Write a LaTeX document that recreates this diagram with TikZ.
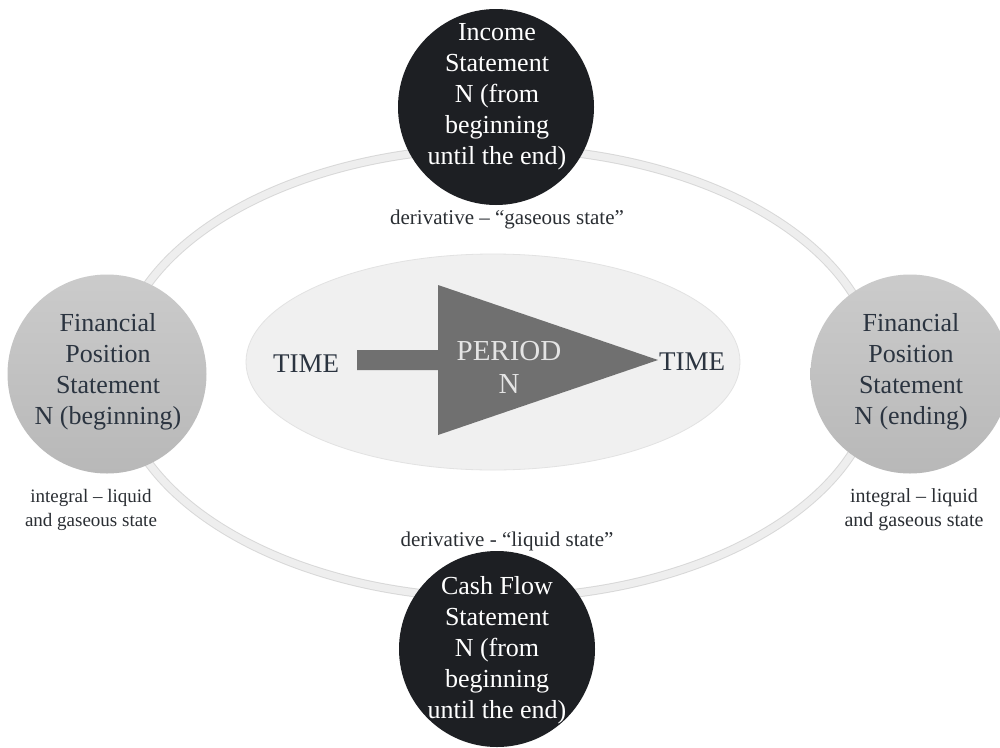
\documentclass[tikz,border=0pt]{standalone}
\usepackage{fontspec}
\setmainfont{Liberation Serif}
\definecolor{darkc}{HTML}{1D1F23}
\definecolor{ringc}{HTML}{EEEEEE}
\definecolor{ringe}{HTML}{D8D8D8}
\definecolor{innerc}{HTML}{F0F0F0}
\definecolor{innere}{HTML}{E2E2E2}
\definecolor{graytop}{HTML}{CBCBCB}
\definecolor{graybot}{HTML}{B8B8B8}
\definecolor{slate}{HTML}{2B3440}
\definecolor{arrowc}{HTML}{707070}
\definecolor{periodc}{HTML}{E4E4E4}
\definecolor{labelc}{HTML}{2A2E33}
\begin{document}
\begin{tikzpicture}[x=1pt,y=-1pt,
  darkcircle/.style={circle,fill=darkc,minimum size=196pt,inner sep=0pt},
  graycircle/.style={circle,top color=graytop,bottom color=graybot,minimum size=199pt,inner sep=0pt},
  bigtext/.style={align=center,font=\fontsize{26}{31}\selectfont,inner sep=0pt},
  smalltext/.style={align=center,font=\fontsize{20}{24}\selectfont,text=labelc,inner sep=0pt}]
\useasboundingbox (0,0) rectangle (1000,747);
\fill[white] (0,0) rectangle (1000,747);
% outer ring
\draw[ringe,line width=9pt] (497,373) ellipse [x radius=380, y radius=225];
\draw[ringc,line width=7pt] (497,373) ellipse [x radius=380, y radius=225];
% inner ellipse
\filldraw[fill=innerc,draw=innere,line width=0.8pt] (493,362) ellipse [x radius=247, y radius=108];
% circles
\node[darkcircle] (inc) at (496,107) {};
\node[darkcircle] (cash) at (497,649) {};
\node[graycircle] (fpl) at (107,374) {};
\node[graycircle] (fpr) at (910,374) {};
% arrow
\fill[arrowc] (357,350) -- (438,350) -- (438,285) -- (658,360) -- (438,435) -- (438,370) -- (357,370) -- cycle;
% texts
\node[bigtext,text=white] (inct) at (497,97) {Income\\Statement\\N (from\\beginning\\until the end)};
\node[bigtext,text=white] (casht) at (497,650) {Cash Flow\\Statement\\N (from\\beginning\\until the end)};
\node[bigtext,text=slate] (fplt) at (108,372) {Financial\\Position\\Statement\\N (beginning)};
\node[bigtext,text=slate] (fprt) at (911,372) {Financial\\Position\\Statement\\N (ending)};
\node[bigtext,text=slate,font=\fontsize{27}{31}\selectfont] (t1) at (306,364) {TIME};
\node[bigtext,text=slate,font=\fontsize{27}{31}\selectfont] (t2) at (692,362) {TIME};
\node[bigtext,text=periodc,font=\fontsize{29}{33}\selectfont] (per) at (509,367) {PERIOD\\N};
\node[smalltext,font=\fontsize{21}{24}\selectfont] (d1) at (507,219) {derivative – “gaseous state”};
\node[smalltext,font=\fontsize{21}{24}\selectfont] (d2) at (507,541) {derivative - “liquid state”};
\node[smalltext,font=\fontsize{19}{24}\selectfont] (il) at (91,510) {integral – liquid\\and gaseous state};
\node[smalltext] (ir) at (914,510) {integral – liquid\\and gaseous state};
\end{tikzpicture}
\end{document}
